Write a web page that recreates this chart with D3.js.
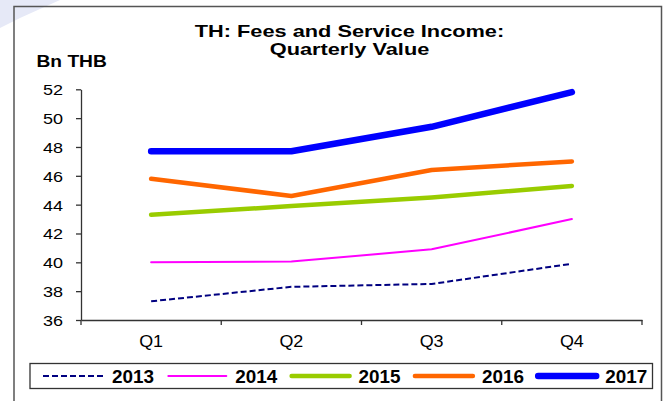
<html>
<head>
	<title>TH: Fees and Service Income</title>
	<script src="https://d3js.org/d3.v7.min.js"></script>
	<style type="text/css">
		body {
			margin: 0;
			padding: 0;
			background: #fff;
			overflow: hidden;
		}
		text {
			font-family: Arial, "Liberation Sans", sans-serif;
			fill: #000;
		}
	</style>
</head>
<body>

<div id="chart"></div>

<script>

// data
var quarters = ["Q1", "Q2", "Q3", "Q4"];
var years = ["2013", "2014", "2015", "2016", "2017"];
var v2013 = [37.3, 38.3, 38.5, 39.9];
var v2014 = [40.0, 40.05, 40.9, 43.0];
var v2015 = [43.3, 43.9, 44.5, 45.3];
var v2016 = [45.8, 44.6, 46.4, 47.0];
var v2017 = [47.7, 47.7, 49.4, 51.8];
var yTicks = [36, 38, 40, 42, 44, 46, 48, 50, 52];

var series = [
	{name: years[0], values: v2013, color: "#000080", width: 2, dash: "6,3"},
	{name: years[1], values: v2014, color: "#FF00FF", width: 2, dash: null},
	{name: years[2], values: v2015, color: "#99CC00", width: 4.5, dash: null},
	{name: years[3], values: v2016, color: "#FF6600", width: 4.5, dash: null},
	{name: years[4], values: v2017, color: "#0000FF", width: 6.5, dash: null}
];

var W = 669, H = 401;

var svg = d3.select("#chart").append("svg")
	.attr("width", W)
	.attr("height", H);

// faint corner watermark
svg.append("path")
	.attr("d", "M0,0 L60,0 L20,18 L0,28 Z")
	.attr("fill", "#e6e9f7");

// outer frame (bottom is cut off)
svg.append("path")
	.attr("d", "M14,401 L14,6.5 L661.5,6.5 L661.5,401")
	.attr("fill", "none")
	.attr("stroke", "#555")
	.attr("stroke-width", 1.5);

var x = d3.scaleBand()
	.domain(quarters)
	.range([81, 642]);

var y = d3.scaleLinear()
	.domain([36, 52])
	.range([320, 89.3]);

// title
function label(txt, px, py, size, sx, anchor, bold) {
	svg.append("text")
		.attr("transform", "translate(" + px + "," + py + ") scale(" + sx + ",1)")
		.attr("text-anchor", anchor)
		.style("font-size", size + "px")
		.style("font-weight", bold ? "bold" : "normal")
		.text(txt);
}
label("TH: Fees and Service Income:", 349.5, 37, 17, 1.28, "middle", true);
label("Quarterly Value", 349.5, 54.5, 17, 1.28, "middle", true);
label("Bn THB", 36.5, 67, 16, 1.2, "start", true);

// y axis
var yAxis = svg.append("g")
	.attr("transform", "translate(81,0)")
	.call(d3.axisLeft(y).tickValues(yTicks).tickSize(5).tickSizeOuter(0));
yAxis.selectAll("text")
	.attr("x", 0)
	.attr("dy", "0.36em")
	.attr("transform", "translate(-18,0) scale(1.2,1)")
	.style("font-size", "15px");

// x axis: labels centred, ticks at band edges
var xAxis = svg.append("g")
	.attr("transform", "translate(0,320)")
	.call(d3.axisBottom(x).tickSize(0).tickSizeOuter(0));
xAxis.selectAll("text")
	.attr("y", 0)
	.attr("dy", null)
	.attr("transform", "translate(0,26.7) scale(1.12,1)")
	.style("font-size", "16px");

var edges = quarters.map(function(q) { return x(q); }).concat([x.range()[1]]);
xAxis.selectAll(".edge")
	.data(edges)
	.enter().append("line")
	.attr("class", "edge")
	.attr("x1", function(d) { return d; })
	.attr("x2", function(d) { return d; })
	.attr("y1", 0)
	.attr("y2", 5);

svg.selectAll(".domain, .tick line, .edge")
	.attr("stroke", "#333")
	.attr("stroke-width", 1.3);

// lines
var line = d3.line()
	.x(function(d, i) { return x(quarters[i]) + x.bandwidth() / 2; })
	.y(function(d) { return y(d); });

svg.selectAll(".series")
	.data(series)
	.enter().append("path")
	.attr("class", "series")
	.attr("d", function(d) { return line(d.values); })
	.attr("fill", "none")
	.attr("stroke", function(d) { return d.color; })
	.attr("stroke-width", function(d) { return d.width; })
	.attr("stroke-dasharray", function(d) { return d.dash; })
	.attr("stroke-linecap", function(d) { return d.dash ? "butt" : "round"; })
	.attr("stroke-linejoin", "round");

// legend
svg.append("rect")
	.attr("x", 30)
	.attr("y", 363.5)
	.attr("width", 622.5)
	.attr("height", 25)
	.attr("fill", "#fff")
	.attr("stroke", "#333")
	.attr("stroke-width", 1.3);

var item = svg.selectAll(".legend")
	.data(series)
	.enter().append("g")
	.attr("class", "legend")
	.attr("transform", function(d, i) { return "translate(" + (43 + i * 123.3) + ",376)"; });

item.append("line")
	.attr("x1", function(d) { return d.dash ? 0 : 2; })
	.attr("x2", function(d) { return d.dash ? 62 : 60; })
	.attr("stroke", function(d) { return d.color; })
	.attr("stroke-width", function(d) { return d.width; })
	.attr("stroke-dasharray", function(d) { return d.dash; })
	.attr("stroke-linecap", function(d) { return d.dash ? "butt" : "round"; });

item.append("text")
	.attr("transform", "translate(69,6.7) scale(1.08,1)")
	.style("font-size", "17.5px")
	.style("font-weight", "bold")
	.text(function(d) { return d.name; });

</script>
</body>
</html>
